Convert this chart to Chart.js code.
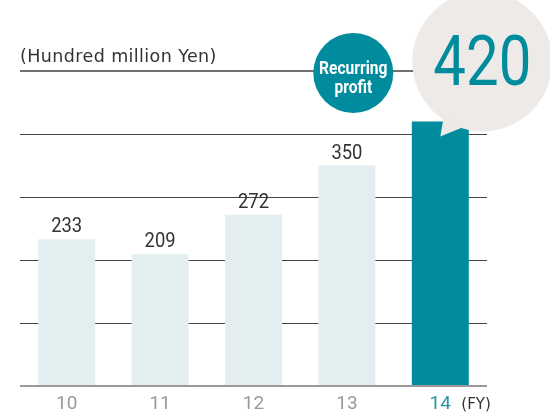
<!DOCTYPE html>
<html>
<head>
<meta charset="utf-8">
<script src="https://cdn.jsdelivr.net/npm/chart.js@4"></script>
<style>
  html, body { margin: 0; padding: 0; background: #fff; }
  #wrap { width: 550px; height: 414px; position: relative; }
</style>
</head>
<body>
<div id="wrap"><canvas id="c" width="550" height="414"></canvas></div>
<script>
const categories = ['10', '11', '12', '13', '14'];
const recurringProfit = [233, 209, 272, 350, 420];
const yTicks = [0, 100, 200, 300, 400, 500];
const unitLabel = '(Hundred million Yen)';
const fyLabel = '(FY)';
const bubbleTitle = ['Recurring', 'profit'];

const TEAL = '#008c9d';
const LIGHT = '#e2eef0';
const lastIdx = recurringProfit.length - 1;

function narrowText(ctx, text, x, y, sx) {
  ctx.save();
  ctx.translate(x, y);
  ctx.scale(sx, 1);
  ctx.fillText(text, 0, 0);
  ctx.restore();
}

const decorPlugin = {
  id: 'decor',
  afterDatasetsDraw(chart) {
    const ctx = chart.ctx;
    const meta = chart.getDatasetMeta(0);
    ctx.save();
    // value labels above bars (except the highlighted last one)
    ctx.font = '20px Roboto';
    ctx.fillStyle = '#333';
    ctx.textAlign = 'center';
    ctx.textBaseline = 'alphabetic';
    meta.data.forEach((bar, i) => {
      if (i === lastIdx) return;
      narrowText(ctx, String(recurringProfit[i]), bar.x, bar.y - 7, 0.92);
    });
    // unit label
    ctx.textAlign = 'left';
    ctx.font = '17.5px "DejaVu Sans"';
    ctx.letterSpacing = '0.4px';
    ctx.fillStyle = '#333';
    ctx.fillText(unitLabel, chart.chartArea.left, chart.chartArea.top - 9);
    ctx.letterSpacing = '0px';

    const last = meta.data[lastIdx];
    // small "Recurring profit" circle
    const sx = last.x - 87, sy = chart.chartArea.top + 2;
    ctx.fillStyle = TEAL;
    ctx.beginPath();
    ctx.arc(sx, sy, 40, 0, Math.PI * 2);
    ctx.fill();
    ctx.fillStyle = '#fff';
    ctx.textAlign = 'center';
    ctx.font = 'bold 19px Roboto';
    narrowText(ctx, bubbleTitle[0], sx, sy + 1, 0.82);
    narrowText(ctx, bubbleTitle[1], sx, sy + 20, 0.82);

    // big bubble with pointer
    const bx = last.x + 42, by = last.y - 60, br = 70;
    ctx.fillStyle = '#edeae7';
    ctx.beginPath();
    ctx.arc(bx, by, br, 0, Math.PI * 2);
    ctx.fill();
    ctx.beginPath();
    ctx.moveTo(last.x + 4, by + 52);
    ctx.lineTo(last.x + 22, by + 66);
    ctx.lineTo(last.x, last.y + 15);
    ctx.closePath();
    ctx.fill();
    ctx.fillStyle = TEAL;
    ctx.font = '70px Roboto';
    ctx.textBaseline = 'alphabetic';
    narrowText(ctx, String(recurringProfit[lastIdx]), bx, by + 24, 0.83);

    // (FY) after last tick label
    ctx.fillStyle = '#333';
    ctx.font = '15px "DejaVu Sans"';
    ctx.textAlign = 'left';
    ctx.textBaseline = 'middle';
    ctx.fillText(fyLabel, last.x + 21, 405);
    ctx.restore();
  }
};

new Chart(document.getElementById('c'), {
  type: 'bar',
  data: {
    labels: categories,
    datasets: [{
      data: recurringProfit,
      backgroundColor: recurringProfit.map((v, i) => i === lastIdx ? TEAL : LIGHT),
      borderWidth: 0,
      categoryPercentage: 1,
      barPercentage: 0.61
    }]
  },
  options: {
    responsive: false,
    animation: false,
    events: [],
    layout: { padding: { top: 71, left: 20, right: 63, bottom: 0 } },
    plugins: { legend: { display: false }, tooltip: { enabled: false } },
    scales: {
      x: {
        grid: { display: false, drawTicks: false },
        border: { display: false },
        ticks: {
          font: { family: 'Roboto', size: 19 },
          color: (c) => c.index === lastIdx ? '#2596a6' : '#999',
          padding: 7
        },
        afterFit: (s) => { s.height = 28; }
      },
      y: {
        min: yTicks[0],
        max: yTicks[yTicks.length - 1],
        afterBuildTicks: (s) => { s.ticks = yTicks.map(v => ({ value: v })); },
        border: { display: false },
        grid: {
          drawTicks: false,
          color: (c) => c.tick.value === yTicks[0] ? '#9a9a9a' : (c.tick.value === yTicks[yTicks.length - 1] ? '#707070' : '#444'),
          lineWidth: (c) => (c.tick.value === yTicks[0] || c.tick.value === yTicks[yTicks.length - 1]) ? 2 : 1
        },
        ticks: { display: false },
        afterFit: (s) => { s.width = 0; }
      }
    }
  },
  plugins: [decorPlugin]
});
</script>
</body>
</html>
